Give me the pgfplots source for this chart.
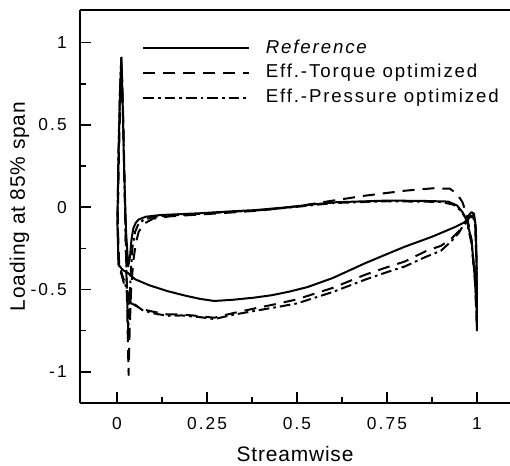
\documentclass[border=0pt]{standalone}
\usepackage{fontspec}
\setmainfont{Liberation Sans}
\newfontfamily\tickfont{Liberation Sans}[LetterSpace=12]
\newfontfamily\legfont{Liberation Sans}[LetterSpace=10]
\newfontfamily\labfont{Liberation Sans}[LetterSpace=4]
\usepackage{pgfplots}
\pgfplotsset{compat=1.18}
\begin{document}
\begin{tikzpicture}
\begin{axis}[
  width=322.5pt, height=294.75pt, scale only axis,
  xmin=-0.103, xmax=1.092, ymin=-1.19, ymax=1.198,
  axis x line*=box, axis y line*=left,
  xtick pos=left, ytick pos=left,
  xtick={0,0.25,0.5,0.75,1}, minor xtick={0.125,0.375,0.625,0.875},
  ytick={-1,-0.5,0,0.5,1}, minor ytick={-0.75,-0.25,0.25,0.75},
  xticklabels={0,0.25,0.5,0.75,1}, yticklabels={-1,-0.5,0,0.5,1},
  tick align=inside, major tick length=8pt, minor tick length=4.5pt,
  every tick/.style={black, line width=1.2pt},
  axis line style={line width=1.6pt, black},
  xticklabel style={font=\tickfont\fontsize{13}{15}\selectfont, inner sep=0pt, anchor=north, yshift=-10.5pt},
  yticklabel style={font=\tickfont\fontsize{13}{15}\selectfont, inner sep=0pt, anchor=east, xshift=-9.75pt},
  xlabel={Streamwise}, ylabel={Loading at 85\% span},
  xlabel style={font=\labfont\fontsize{15.7}{18}\selectfont, inner sep=0pt, at={(axis description cs:0.5,-0.148)}, anchor=base},
  ylabel style={font=\labfont\fontsize{15.7}{18}\selectfont, inner sep=0pt, at={(axis description cs:-0.128,0.5)}, anchor=base},
  legend style={draw=none, fill=none, at={(axis description cs:0.144,1)}, anchor=north west, yshift=-21.9pt,
    inner sep=0pt, row sep=4.9pt, font=\legfont\fontsize{14}{16}\selectfont,
    nodes={inner sep=0pt, text height=10.5pt, text depth=3pt}},
  legend cell align=left,
  legend image code/.code={\draw[#1] (0pt,0pt) -- (79pt,0pt); \path[draw=none] (0pt,-0.1pt) rectangle (92pt,0.1pt);},
  every axis plot/.append style={line width=1.5pt, line join=round},
]
\addplot[black, solid, no markers, line width=1.5pt] coordinates {
(0.03,-0.40) (0.015,-0.38) (0.004,-0.35) (0.001,-0.1) (0.004,0.3) (0.008,0.7) (0.012,0.91)
(0.016,0.6) (0.02,0.2) (0.025,-0.15) (0.031,-0.36) (0.036,-0.3) (0.04,-0.2) (0.045,-0.13)
(0.052,-0.095) (0.06,-0.075) (0.08,-0.058) (0.12,-0.048) (0.23,-0.037) (0.32,-0.025)
(0.383,-0.018) (0.475,0.0) (0.55,0.018) (0.61,0.03) (0.75,0.04) (0.85,0.038) (0.92,0.034)
(0.945,0.01) (0.96,-0.03) (0.972,-0.08) (0.985,-0.2) (0.994,-0.42) (0.999,-0.6) (1.0,-0.75)
(1.0,-0.55) (0.999,-0.3) (0.997,-0.12) (0.992,-0.04) (0.985,-0.03) (0.977,-0.05) (0.967,-0.09)
(0.94,-0.12) (0.875,-0.18) (0.80,-0.24) (0.75,-0.285) (0.69,-0.34) (0.60,-0.43) (0.53,-0.485)
(0.475,-0.515) (0.43,-0.535) (0.38,-0.55) (0.32,-0.563) (0.27,-0.57) (0.23,-0.557) (0.19,-0.538)
(0.14,-0.51) (0.09,-0.475) (0.05,-0.438) (0.03,-0.40)
};
\addlegendentry{\textit{Reference}}
\addplot[black, no markers, line width=1.5pt, dash pattern=on 9pt off 6pt] coordinates {
(0.036,-0.58) (0.02,-0.47) (0.006,-0.36) (0.002,-0.1) (0.005,0.3) (0.009,0.65) (0.013,0.85)
(0.017,0.55) (0.021,0.15) (0.025,-0.3) (0.029,-0.7) (0.032,-1.02) (0.035,-0.75) (0.039,-0.5)
(0.045,-0.33) (0.052,-0.22) (0.06,-0.15) (0.075,-0.1) (0.1,-0.07) (0.15,-0.055) (0.23,-0.045)
(0.32,-0.032) (0.4,-0.02) (0.5,0.005) (0.6,0.04) (0.69,0.07) (0.8,0.1) (0.88,0.115)
(0.925,0.112) (0.945,0.08) (0.96,0.03) (0.972,-0.05) (0.985,-0.2) (0.994,-0.42) (1.0,-0.72)
(0.999,-0.4) (0.996,-0.13) (0.99,-0.06) (0.98,-0.06) (0.968,-0.1) (0.95,-0.145) (0.93,-0.19)
(0.9,-0.235) (0.86,-0.265) (0.8,-0.33) (0.75,-0.365) (0.69,-0.41) (0.6,-0.49) (0.5,-0.56)
(0.45,-0.585) (0.383,-0.615) (0.32,-0.645) (0.27,-0.672) (0.23,-0.662) (0.18,-0.652)
(0.14,-0.652) (0.1,-0.635) (0.07,-0.62) (0.036,-0.58)
};
\addlegendentry{Eff.-Torque optimized}
\addplot[black, no markers, line width=1.5pt, dash pattern=on 8pt off 3pt on 2pt off 3pt] coordinates {
(0.036,-0.57) (0.02,-0.45) (0.004,-0.34) (0.001,-0.05) (0.004,0.35) (0.008,0.7) (0.012,0.92)
(0.016,0.6) (0.02,0.2) (0.024,-0.2) (0.028,-0.55) (0.031,-0.75) (0.034,-0.6) (0.038,-0.4)
(0.043,-0.24) (0.05,-0.15) (0.06,-0.1) (0.075,-0.075) (0.1,-0.06) (0.15,-0.05) (0.23,-0.04)
(0.32,-0.028) (0.4,-0.018) (0.5,0.002) (0.6,0.025) (0.75,0.036) (0.9,0.032) (0.935,0.015)
(0.955,-0.02) (0.97,-0.07) (0.985,-0.22) (0.995,-0.45) (1.0,-0.7) (0.999,-0.35) (0.995,-0.1)
(0.988,-0.05) (0.978,-0.06) (0.965,-0.1) (0.95,-0.155) (0.93,-0.205) (0.9,-0.265) (0.86,-0.3)
(0.8,-0.36) (0.75,-0.395) (0.69,-0.44) (0.6,-0.515) (0.5,-0.585) (0.45,-0.605) (0.383,-0.63)
(0.32,-0.655) (0.27,-0.68) (0.23,-0.668) (0.18,-0.658) (0.14,-0.66) (0.1,-0.645) (0.07,-0.625)
(0.036,-0.57)
};
\addlegendentry{Eff.-Pressure optimized}
\end{axis}
\pgfresetboundingbox
\path (current axis.south west) ++(-60pt,-46.5pt) rectangle ([yshift=7.5pt]current axis.north east);
\end{tikzpicture}
\end{document}
